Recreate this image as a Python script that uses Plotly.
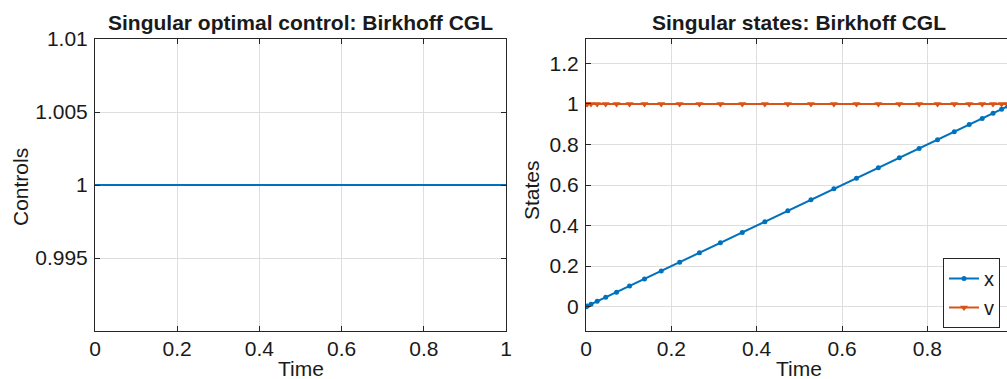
import plotly.graph_objects as go

# Birkhoff CGL time nodes
time_nodes = [0.0, 0.0029, 0.0117, 0.0262, 0.0462, 0.0716, 0.1020, 0.1370, 0.1763,
              0.2194, 0.2658, 0.3149, 0.3662, 0.4191, 0.4729, 0.5271, 0.5809,
              0.6338, 0.6851, 0.7342, 0.7806, 0.8237, 0.8630, 0.8980, 0.9284,
              0.9538, 0.9738, 0.9883, 0.9971, 1.0]
controls_u = [1.0] * len(time_nodes)
state_x = list(time_nodes)
state_v = [1.0] * len(time_nodes)

left_xticks = [0, 0.2, 0.4, 0.6, 0.8, 1]
left_xtext = ["0", "0.2", "0.4", "0.6", "0.8", "1"]
left_yticks = [0.995, 1.0, 1.005, 1.01]
left_ytext = ["0.995", "1", "1.005", "1.01"]
right_xticks = [0, 0.2, 0.4, 0.6, 0.8]
right_xtext = ["0", "0.2", "0.4", "0.6", "0.8"]
right_yticks = [0, 0.2, 0.4, 0.6, 0.8, 1.0, 1.2]
right_ytext = ["0", "0.2", "0.4", "0.6", "0.8", "1", "1.2"]

BLUE = "#0072BD"
ORANGE = "#D95319"
AXC = "#262626"
GRID = "#dedede"
FONT = "Liberation Sans, Arial, Helvetica, sans-serif"
W, H = 1007, 379

fig = go.Figure()
fig.add_trace(go.Scatter(x=time_nodes, y=controls_u, mode="lines",
                         line=dict(color=BLUE, width=2), showlegend=False,
                         xaxis="x", yaxis="y"))
fig.add_trace(go.Scatter(x=time_nodes, y=state_x, mode="lines+markers", name="x",
                         line=dict(color=BLUE, width=2),
                         marker=dict(symbol="circle", size=5, color=BLUE),
                         xaxis="x2", yaxis="y2"))
fig.add_trace(go.Scatter(x=time_nodes, y=state_v, mode="lines+markers", name="v",
                         line=dict(color=ORANGE, width=2),
                         marker=dict(symbol="triangle-down", size=7, color=ORANGE),
                         xaxis="x2", yaxis="y2"))

def px_x(p):
    return p / W

def px_y(p):
    return 1 - p / H

top, bot = 39, 331
common = dict(showline=True, linecolor=AXC, linewidth=1, ticks="inside", ticklen=5,
              tickcolor=AXC, showgrid=True, gridcolor=GRID, gridwidth=1,
              zeroline=False, automargin=False,
              tickfont=dict(family=FONT, size=21, color="#1a1a1a"))

fig.update_layout(
    width=W, height=H, autosize=False,
    margin=dict(l=0, r=0, t=0, b=0, pad=0, autoexpand=False),
    paper_bgcolor="white", plot_bgcolor="white",
    xaxis=dict(domain=[px_x(95), px_x(506)], range=[0, 1], tickvals=left_xticks,
               ticktext=left_xtext, anchor="y", mirror="ticks", ticklabelstandoff=-1, **common),
    yaxis=dict(domain=[px_y(bot), px_y(top)], range=[0.99, 1.01], tickvals=left_yticks,
               ticktext=left_ytext, anchor="x", mirror="ticks", ticklabelstandoff=2, **common),
    xaxis2=dict(domain=[px_x(586), 1.0], range=[0, 0.9865], tickvals=right_xticks,
                ticktext=right_xtext, anchor="y2", mirror="ticks", ticklabelstandoff=-1, **common),
    yaxis2=dict(domain=[px_y(bot), px_y(top)], range=[-0.12, 1.32], tickvals=right_yticks,
                ticktext=right_ytext, anchor="x2", mirror=False, ticklabelstandoff=2, **common),
    legend=dict(x=px_x(1000), xanchor="right", y=px_y(258), yanchor="top",
                bgcolor="white", bordercolor=AXC, borderwidth=1,
                font=dict(family=FONT, size=20, color="#1a1a1a"),
                itemwidth=30, tracegroupgap=0),
    showlegend=True,
)

ann_font = dict(family=FONT, size=21, color="#1a1a1a")
title_font = dict(family=FONT, size=21, color="#1a1a1a")
fig.add_annotation(text="<b>Singular optimal control: Birkhoff CGL</b>", x=px_x(300.5), y=px_y(22),
                   xref="paper", yref="paper", showarrow=False, xanchor="center", yanchor="middle",
                   font=title_font)
fig.add_annotation(text="<b>Singular states: Birkhoff CGL</b>", x=px_x(799), y=px_y(22),
                   xref="paper", yref="paper", showarrow=False, xanchor="center", yanchor="middle",
                   font=title_font)
fig.add_annotation(text="Time", x=px_x(300.5), y=px_y(368), xref="paper", yref="paper",
                   showarrow=False, xanchor="center", yanchor="middle", font=ann_font)
fig.add_annotation(text="Time", x=px_x(799), y=px_y(368), xref="paper", yref="paper",
                   showarrow=False, xanchor="center", yanchor="middle", font=ann_font)
fig.add_annotation(text="Controls", x=px_x(20), y=px_y(187), xref="paper", yref="paper",
                   showarrow=False, xanchor="center", yanchor="middle", textangle=-90, font=ann_font)
fig.add_annotation(text="States", x=px_x(531), y=px_y(190), xref="paper", yref="paper",
                   showarrow=False, xanchor="center", yanchor="middle", textangle=-90, font=ann_font)

fig.write_html("out.html", config={"displayModeBar": False},
               post_script="document.body.style.margin='0';document.body.style.overflow='hidden';")
